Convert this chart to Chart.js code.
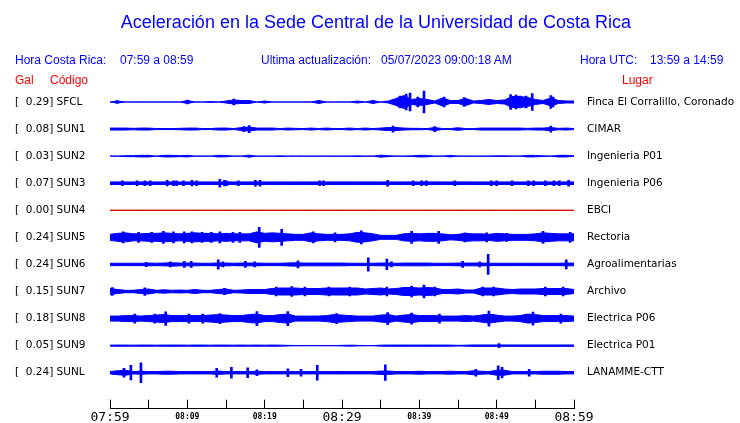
<!DOCTYPE html>
<html>
<head>
<meta charset="utf-8">
<script src="https://cdn.jsdelivr.net/npm/chart.js@4.4.0/dist/chart.umd.min.js"></script>
<style>
  body { margin: 0; background: #fff; }
  #wrap { position: relative; width: 740px; height: 423px; overflow: hidden; }
  #chart { position: absolute; left: 0; top: 0; }
  .txt { position: absolute; font-family: "Liberation Sans", Arial, sans-serif; font-size: 12px; line-height: 16px; color: #0000ff; white-space: nowrap; }
  .red { color: #ff0000; }
  #title { left: 0; width: 752px; text-align: center; top: 11px; font-size: 18px; line-height: 22px; }
</style>
</head>
<body>
<div id="wrap">
  <!-- canvas a bit taller than the page so the time axis lands at y=409 -->
  <canvas id="chart" width="740" height="428"></canvas>
  <div class="txt" id="title">Aceleración en la Sede Central de la Universidad de Costa Rica</div>
  <div class="txt" style="left:15px;top:52px">Hora Costa Rica:</div>
  <div class="txt" style="left:120px;top:52px">07:59 a 08:59</div>
  <div class="txt" style="left:261px;top:52px">Ultima actualización:</div>
  <div class="txt" style="left:381px;top:52px">05/07/2023 09:00:18 AM</div>
  <div class="txt" style="left:580px;top:52px">Hora UTC:</div>
  <div class="txt" style="left:650px;top:52px">13:59 a 14:59</div>
  <div class="txt red" style="left:15px;top:72px">Gal</div>
  <div class="txt red" style="left:50px;top:72px">Código</div>
  <div class="txt red" style="left:622px;top:72px">Lugar</div>
</div>
<script>
// stations, top to bottom
const codes = ["SFCL", "SUN1", "SUN2", "SUN3", "SUN4", "SUN5", "SUN6", "SUN7", "SUN8", "SUN9", "SUNL"];
const gals = [0.29, 0.08, 0.03, 0.07, 0.00, 0.24, 0.24, 0.15, 0.18, 0.05, 0.24];
const places = ["Finca El Corralillo, Coronado", "CIMAR", "Ingenieria P01", "Ingenieria P06", "EBCI",
  "Rectoria", "Agroalimentarias", "Archivo", "Electrica P06", "Electrica P01", "LANAMME-CTT"];

// x axis: minutes after 07:59, a tick every 5 minutes
const tickLabels = ["07:59", "", "08:09", "", "08:19", "", "08:29", "", "08:39", "", "08:49", "", "08:59"];
const bigTicks = ["07:59", "08:29", "08:59"];

// half-amplitude of each trace, one value per minute (0..60)
const envSFCL = [0.5, 1.5, 0.5, 0.5, 0.5, 0.5, 0.5, 0.5, 0.5, 0.5,
  2, 0.5, 0.5, 1, 0.5, 1.5, 2.5, 2, 2, 0.5,
  1.5, 0.5, 0.5, 0.5, 0.5, 0.5, 0.5, 2, 0.5, 0.5,
  0.5, 0.5, 1.5, 0.5, 2, 0.5, 1.5, 4, 7, 3,
  4, 3, 1.5, 4.5, 2, 2, 4, 1.5, 2, 3,
  2, 2.5, 6, 6, 5, 3, 2, 4.5, 2, 1.5, 1.5];
const envSUN1 = [1.5, 1.5, 1.5, 1.2, 1.5, 1.5, 1, 1, 1, 1.2,
  1.5, 1.5, 1, 1, 1.5, 1.5, 1, 2, 2.5, 1.5,
  1.5, 1.5, 1, 1.5, 1.2, 1, 1.5, 1, 1.5, 1,
  1, 1.5, 1, 1.5, 1, 1.5, 2, 2, 1.5, 1.2,
  1.2, 1, 2, 1, 1, 1.8, 1, 1, 1.5, 1.5,
  1.5, 1.5, 1.5, 1.5, 1.2, 1.5, 1.5, 2, 1.2, 1.5, 1];
const envSUN2 = [0.5, 0.5, 1, 1, 1.3, 1.3, 0.5, 1.3, 1.3, 1,
  1.3, 0.5, 0.5, 0.5, 1.3, 1.2, 0.5, 0.5, 1.5, 0.5,
  0.5, 0.5, 0.8, 0.5, 0.5, 0.5, 0.5, 0.5, 0.5, 0.5,
  0.5, 0.5, 0.8, 0.5, 0.5, 1.5, 1, 0.5, 0.5, 0.8,
  1.3, 1.2, 0.5, 0.5, 1.3, 0.5, 0.5, 0.5, 0.5, 0.5,
  0.8, 0.8, 0.5, 0.5, 1.3, 1.2, 0.8, 0.5, 1.3, 1.3, 0.8];
const envSUN3 = [1.8, 1.8, 1.8, 1.8, 1.8, 1.8, 1.8, 1.8, 1.8, 1.8,
  1.8, 1.8, 1.8, 1.8, 1.8, 1.8, 1.8, 1.8, 1.8, 1.8,
  1.8, 1.8, 1.8, 1.8, 1.8, 1.8, 1.8, 1.8, 1.8, 1.8,
  1.8, 1.8, 1.8, 1.8, 1.8, 1.8, 1.8, 1.8, 1.8, 1.8,
  1.8, 1.8, 1.8, 1.8, 1.8, 1.8, 1.8, 1.8, 1.8, 1.8,
  1.8, 1.8, 1.8, 1.8, 1.8, 1.8, 1.8, 1.8, 1.8, 1.8, 1.8];
const envSUN4 = [0, 0, 0, 0, 0, 0, 0, 0, 0, 0,
  0, 0, 0, 0, 0, 0, 0, 0, 0, 0,
  0, 0, 0, 0, 0, 0, 0, 0, 0, 0,
  0, 0, 0, 0, 0, 0, 0, 0, 0, 0,
  0, 0, 0, 0, 0, 0, 0, 0, 0, 0,
  0, 0, 0, 0, 0, 0, 0, 0, 0, 0, 0];
const envSUN5 = [3.5, 4.5, 5, 4, 4, 4.5, 4.5, 5, 4.5, 4,
  4.5, 5, 4.5, 4.5, 4, 4.5, 4, 4, 4, 6,
  4.5, 5, 4.5, 4, 3.5, 3.5, 5, 4, 3.5, 3.5,
  3.5, 4, 5.5, 5, 4, 2.5, 2.5, 2.5, 4, 4.5,
  4, 4.5, 4.5, 4, 3, 3.5, 4.5, 4, 4, 3.5,
  4.5, 4, 3.5, 3.5, 3.5, 4, 5, 4.5, 4, 4, 4];
const envSUN6 = [1.7, 1.7, 1.7, 1.7, 1.7, 1.9, 1.7, 1.9, 2.2, 1.9,
  1.9, 1.9, 1.7, 1.7, 2, 1.9, 1.7, 1.9, 1.9, 1.9,
  1.7, 1.7, 1.7, 2, 2.2, 1.9, 1.9, 1.9, 1.9, 1.9,
  1.9, 1.7, 1.7, 1.7, 1.7, 1.9, 1.9, 1.7, 1.9, 1.9,
  1.9, 1.9, 1.7, 1.7, 1.7, 1.9, 1.9, 1.9, 1.9, 1.7,
  1.7, 1.7, 1.7, 1.7, 1.7, 1.7, 1.7, 1.7, 1.7, 1.9, 1.9];
const envSUN7 = [3.5, 2.5, 1.7, 1.7, 2.5, 3, 1.7, 2.2, 1.7, 2,
  1.7, 2.5, 1.7, 1.7, 2.5, 3, 1.7, 2, 2.5, 2.5,
  2.5, 3.5, 4, 4, 4, 3.5, 3.5, 3.5, 4, 4,
  4, 4, 4, 3, 3.5, 4, 3, 3.5, 4.5, 4.5,
  4, 4.5, 4, 2.5, 2.5, 3, 2, 2, 4, 4,
  4, 3, 2.5, 3, 3, 3, 3.5, 3.5, 3.5, 3.5, 2.5];
const envSUN8 = [3, 3, 3.5, 3.5, 3, 3.5, 4, 4.5, 3.5, 3.5,
  3.5, 3.5, 3.5, 4, 4.5, 4, 3.5, 3.5, 4.5, 5,
  3.5, 3.5, 4.5, 5, 3, 3, 3, 3, 3.5, 4.5,
  4, 3.5, 3, 3, 3, 4, 4.5, 3, 4, 4.5,
  3.5, 3.5, 3.5, 3, 3, 3, 3.5, 3, 4, 5,
  4, 3, 3, 3.5, 5, 4.5, 3.5, 3.5, 3.5, 3.5, 3];
const envSUN9 = [1, 1.1, 1.1, 1, 1.1, 1.1, 1, 1.1, 1.1, 1.1,
  1, 1.1, 1.1, 1, 1.1, 1.1, 1, 1.1, 1, 1.1,
  1, 1.1, 1, 0.8, 0.6, 0.6, 0.6, 0.6, 0.6, 0.6,
  0.8, 1, 0.8, 0.6, 0.6, 1, 1.1, 1.1, 1.1, 1.1,
  1.1, 1.1, 1.1, 1.1, 1.1, 0.8, 1, 1.2, 1.2, 1.2,
  1.2, 1.2, 1.2, 1.2, 1.2, 1.2, 1.2, 1.2, 1.2, 1.2, 1.2];
const envSUNL = [1.7, 2.5, 3, 1.7, 2, 1.7, 1.7, 2, 2, 1.7,
  1.7, 1.7, 1.7, 1.7, 2.2, 1.7, 1.7, 1.7, 1.7, 2,
  1.7, 1.7, 1.7, 1.7, 1.7, 1.7, 1.7, 1.7, 1.7, 1.7,
  1.7, 1.7, 1.7, 1.7, 1.7, 2.2, 2.2, 1.7, 1.7, 1.7,
  2, 1.7, 1.7, 1.7, 2, 1.7, 1.7, 2.5, 2, 1.7,
  3, 3, 1.7, 1.7, 1.7, 1.7, 2, 2, 2, 1.7, 1.7];

// single peaks: [minute, half-amplitude]
const spkSFCL = [[0.9, 1.5], [10, 2], [16, 3], [37.5, 6], [38.3, 8], [38.8, 9], [39.8, 5], [40.6, 11],
  [43.2, 5], [45.8, 4.5], [51.8, 7.5], [52.5, 7], [53, 6], [53.8, 6], [54.6, 8.5], [57, 6.5], [57.3, 5]];
const spkSUN1 = [[17.3, 2.5], [18, 3.5], [36.6, 3], [42, 2.5], [57, 3]];
const spkSUN2 = [];
const spkSUN3 = [[1.6, 2.5], [3.5, 2.5], [4.5, 2.5], [5.2, 2.5], [7.4, 2.8], [8.2, 2.5], [8.6, 2.5], [9.5, 2.5],
  [10.6, 2.8], [11.2, 2.5], [14.2, 4], [14.8, 2.8], [15.1, 2.5], [16.6, 2.5], [18.8, 3], [19.4, 3],
  [27.1, 2.5], [27.6, 2.5], [35.9, 3], [39.2, 2.5], [40.3, 2.5], [40.9, 2.5], [44.6, 2.5], [49.3, 2.5],
  [50, 2.5], [52, 2.5], [54.1, 2.5], [54.8, 2.5], [56.3, 2.5], [57.4, 2.5], [58.1, 2.5], [59.3, 3]];
const spkSUN4 = [];
const spkSUN5 = [[1.7, 5.5], [3.7, 5], [5.4, 5], [6.9, 6], [8.2, 5.5], [9.6, 5.5], [10.6, 5.5], [11.9, 5],
  [13.1, 5], [14.2, 5.5], [15.9, 5], [16.8, 5], [19.3, 10], [22.2, 8], [26.3, 5.5], [29.1, 4.5],
  [32.5, 6.5], [39, 6], [42.5, 6], [45.9, 4.5], [48.7, 4.5], [51.3, 4], [56, 6], [59.5, 5]];
const spkSUN6 = [[4.7, 2.2], [7.8, 2.5], [9.6, 3], [10.5, 3], [14, 4.7], [14.6, 2.5], [17.5, 3], [18.7, 2.5],
  [24.3, 3.5], [33.4, 6.7], [35.8, 5.3], [36.4, 2.5], [45.6, 3], [47.8, 2.5], [48.9, 10], [59, 4.5]];
const spkSUN7 = [[0.3, 4], [4.5, 3.8], [14.8, 3.2], [21.5, 4.5], [23.5, 5], [25.2, 4.5], [28.3, 4.5],
  [31, 4.5], [35.8, 4.5], [39, 5.5], [40.6, 6.5], [42, 4.5], [48.2, 4.5], [49.6, 4.5], [56.3, 4.5], [58.6, 4.5]];
const spkSUN8 = [[3.2, 4.5], [5.8, 4.5], [7.2, 6.8], [10.2, 4.5], [12, 4.5], [14.2, 5], [19, 7], [23, 7],
  [29.3, 5], [35.9, 6], [39, 5.5], [42.6, 4.5], [49, 7.5], [54.7, 6.5], [58.3, 4.5]];
const spkSUN9 = [[50.3, 2]];
const spkSUNL = [[1.8, 4.5], [2.7, 7.3], [4, 10], [13.8, 4.5], [15.7, 5.5], [17.8, 5], [19, 3], [23, 4],
  [24.7, 3.5], [26.8, 7.5], [35.6, 7.8], [47.3, 3.5], [50.2, 7], [50.7, 5.3], [54.2, 3.5]];

const envelopes = [envSFCL, envSUN1, envSUN2, envSUN3, envSUN4, envSUN5, envSUN6, envSUN7, envSUN8, envSUN9, envSUNL];
const spikes = [spkSFCL, spkSUN1, spkSUN2, spkSUN3, spkSUN4, spkSUN5, spkSUN6, spkSUN7, spkSUN8, spkSUN9, spkSUNL];

const TRACE_GAP = 27.1;
const STROKE = 1;

const datasets = [];
codes.forEach((code, i) => {
  const c = i * TRACE_GAP;
  const color = gals[i] === 0 ? "#dd0000" : "#0000ff";
  const half = envelopes[i].map((a) => Math.max(0, a - STROKE / 2));

  // upper edge, filled down to the lower edge
  datasets.push({
    type: "line",
    data: half.map((a, m) => ({ x: m, y: c - a })),
    borderColor: color,
    backgroundColor: color,
    borderWidth: STROKE,
    pointRadius: 0,
    tension: 0,
    fill: "+1",
  });
  datasets.push({
    type: "line",
    data: half.map((a, m) => ({ x: m, y: c + a })),
    borderColor: color,
    borderWidth: STROKE,
    pointRadius: 0,
    tension: 0,
    fill: false,
  });
  datasets.push({
    type: "bar",
    data: spikes[i].map(([m, a]) => ({ x: m, y: [c - a, c + a] })),
    backgroundColor: color,
    borderWidth: 0,
    barThickness: 2,
    grouped: false,
  });
});

const stationTicks = (scale) => {
  scale.ticks = codes.map((_, i) => ({ value: i * TRACE_GAP }));
};
const labelFont = { family: "DejaVu Sans", size: 10.5 };

new Chart(document.getElementById("chart"), {
  type: "bar",
  data: { datasets },
  options: {
    responsive: false,
    animation: false,
    layout: { padding: { left: 15, top: 88, right: 0, bottom: 0 } },
    plugins: {
      legend: { display: false },
      tooltip: { enabled: false },
    },
    scales: {
      x: {
        type: "linear",
        min: 0,
        max: 60,
        offset: false,
        grid: { display: true, drawOnChartArea: false, drawTicks: true, tickLength: -9, color: "#000", lineWidth: 1, offset: false },
        border: { display: true, color: "#000", width: 1 },
        ticks: {
          stepSize: 5,
          autoSkip: false,
          maxRotation: 0,
          padding: 9.5,
          color: "#000",
          callback: (v, i) => tickLabels[i],
          font: (ctx) =>
            bigTicks.includes(tickLabels[ctx.index])
              ? { family: "DejaVu Sans Mono", size: 13, lineHeight: "16px" }
              : { family: "DejaVu Sans Mono", size: 8, weight: "bold", lineHeight: "16px" },
        },
        afterFit: (s) => { s.height = 14; },
      },
      y: {
        type: "linear",
        display: true,
        position: "left",
        reverse: true,
        min: -14,
        max: 307,
        grid: { display: false, drawTicks: false },
        border: { display: false },
        afterBuildTicks: stationTicks,
        ticks: {
          autoSkip: false,
          crossAlign: "far",
          padding: 0,
          color: "#000",
          font: labelFont,
          callback: (v, i) => "[  " + gals[i].toFixed(2) + "] " + codes[i],
        },
        afterFit: (s) => { s.width = 95; },
      },
      y2: {
        type: "linear",
        display: true,
        position: "right",
        reverse: true,
        min: -14,
        max: 307,
        grid: { display: false, drawTicks: false },
        border: { display: false },
        afterBuildTicks: stationTicks,
        ticks: {
          autoSkip: false,
          padding: 13,
          color: "#000",
          font: labelFont,
          callback: (v, i) => places[i],
        },
        afterFit: (s) => { s.width = 166; },
      },
    },
  },
});
</script>
</body>
</html>
